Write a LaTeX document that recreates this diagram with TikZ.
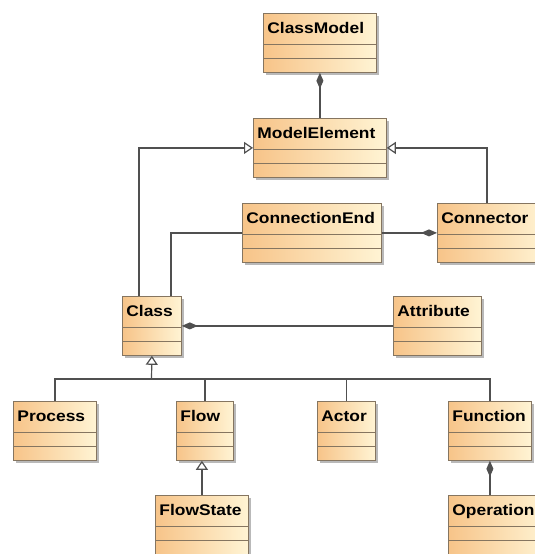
\documentclass[tikz,border=0pt]{standalone}
\usepackage{fontspec}
\setmainfont{Liberation Sans}
\usetikzlibrary{arrows.meta,shadows}

\definecolor{boxL}{HTML}{F7C489}
\definecolor{boxR}{HTML}{FFF4D4}
\definecolor{boxline}{HTML}{857560}
\definecolor{wire}{HTML}{505050}
\definecolor{shade}{HTML}{A8A8A8}

% class name, slightly widened bold sans
\newcommand\clsname[1]{\scalebox{1.13}[1]{#1}}

\tikzset{
  cls/.style={
    anchor=north west, draw=boxline, line width=0.8pt,
    left color=boxL, right color=boxR,
    inner xsep=4pt, inner ysep=0pt, align=left,
    text height=20pt, text depth=39pt,
    font=\fontsize{15.4}{18}\selectfont\bfseries,
    drop shadow={shadow xshift=3pt, shadow yshift=-3pt, fill=shade, opacity=0.8},
    path picture={
      \draw[boxline, line width=0.8pt]
        ([yshift=-31pt]path picture bounding box.north west) --
        ([yshift=-31pt]path picture bounding box.north east);
      \draw[boxline, line width=0.8pt]
        ([yshift=-45pt]path picture bounding box.north west) --
        ([yshift=-45pt]path picture bounding box.north east);
    }
  },
  conn/.style={draw=wire, line width=1.2pt},
  compo/.style={conn, {Diamond[length=16pt, width=7pt, fill=wire]}-},
  compoend/.style={conn, -{Diamond[length=16pt, width=7pt, fill=wire]}},
  gen/.style={conn, -{Triangle[open, length=9pt, width=12pt, fill=white]}},
}

\begin{document}
\begin{tikzpicture}[x=1pt, y=-1pt]
  \useasboundingbox (0,0) rectangle (535,554);
  \fill[white] (0,0) rectangle (535,554);
  \clip (0,0) rectangle (535,554);

  % classes
  \node[cls, text width=105pt] (cm)   at (263,13)  {\clsname{ClassModel}};
  \node[cls, text width=125pt] (me)   at (253,118) {\clsname{ModelElement}};
  \node[cls, text width=131pt] (ce)   at (242,203) {\clsname{ConnectionEnd}};
  \node[cls, text width=102pt] (con)  at (437,203) {\clsname{Connector}};
  \node[cls, text width=51pt]  (cls)  at (122,296) {\clsname{Class}};
  \node[cls, text width=80pt]  (attr) at (393,296) {\clsname{Attribute}};
  \node[cls, text width=75pt]  (pr)   at (13,401)  {\clsname{Process}};
  \node[cls, text width=49pt]  (fl)   at (176,401) {\clsname{Flow}};
  \node[cls, text width=50pt]  (ac)   at (317,401) {\clsname{Actor}};
  \node[cls, text width=75pt]  (fn)   at (448,401) {\clsname{Function}};
  \node[cls, text width=85pt]  (fs)   at (155,495) {\clsname{FlowState}};
  \node[cls, text width=92pt]  (op)   at (448,495) {\clsname{Operation}};

  % compositions
  \draw[compo] (cm.south) -- (me.north);
  \draw[compoend] (ce.east) -- (con.west);
  \draw[compoend] (attr.west) -- (attr.west -| cls.east);
  \draw[compo] (fn.south) -- (fn.south |- op.north);

  % generalizations to ModelElement
  \draw[gen] ([xshift=17pt]cls.north west) |- (me.west);
  \draw[gen] ([xshift=50pt]con.north west) |- (me.east);

  % association ConnectionEnd -- Class
  \draw[conn] (ce.west) -| ([xshift=49pt]cls.north west);

  % specializations of Class
  \coordinate (hub) at (151.5,379);
  \draw[gen] (hub) -- (cls.south);
  \draw[conn] (pr.north) |- (hub);
  \draw[conn] (fl.north) |- (hub);
  \draw[conn] (ac.north) |- (hub);
  \draw[conn] (fn.north) |- (hub);

  % FlowState specializes Flow
  \draw[gen] (fs.north) -- (fs.north |- fl.south);
\end{tikzpicture}
\end{document}
